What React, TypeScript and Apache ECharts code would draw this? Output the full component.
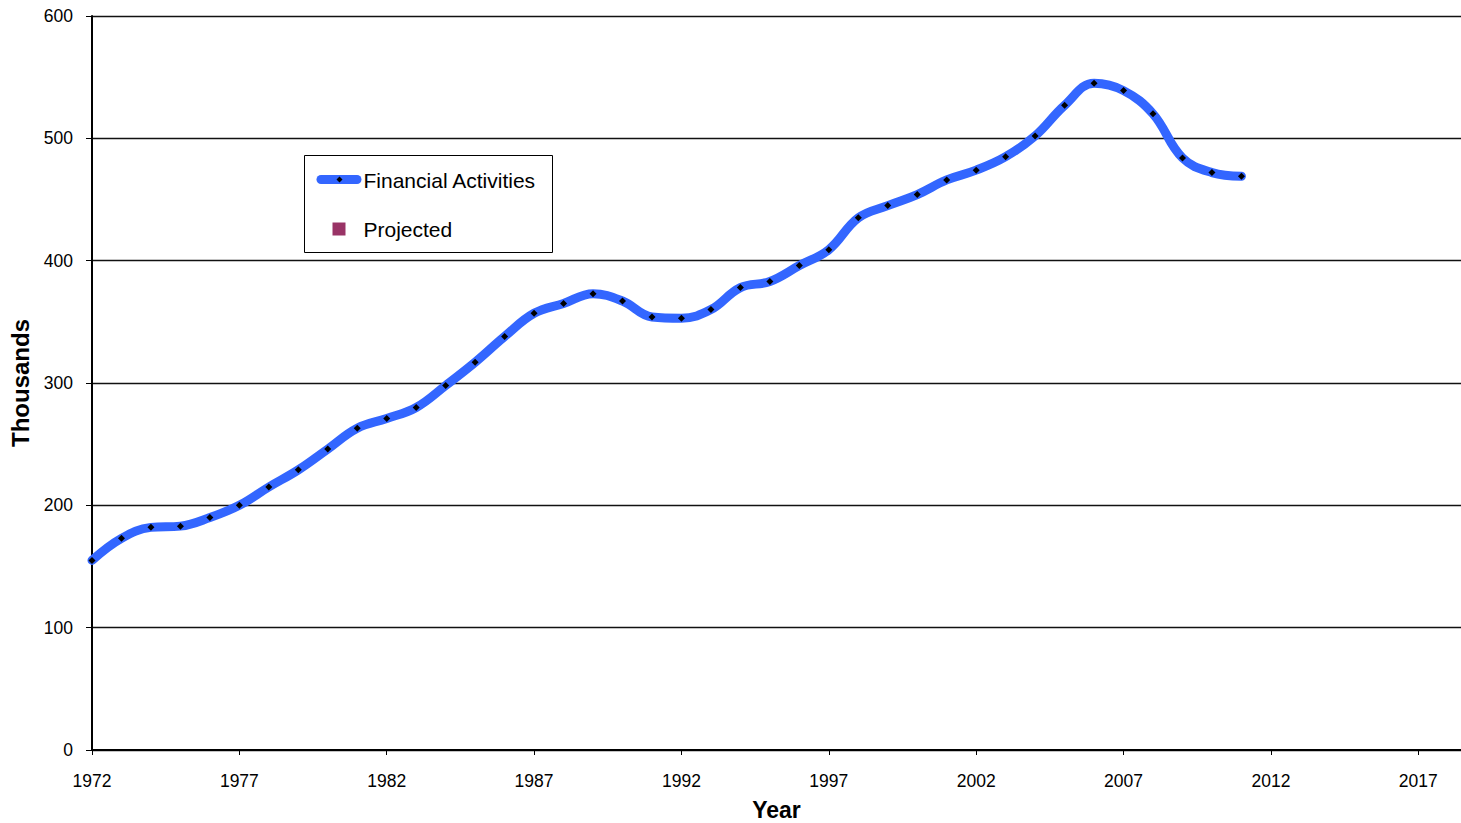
import React, { useEffect, useRef } from "react";
import * as echarts from "echarts";

const BASE_YEAR = 1972;
const years = [
  1972, 1973, 1974, 1975, 1976, 1977, 1978, 1979, 1980, 1981, 1982, 1983, 1984,
  1985, 1986, 1987, 1988, 1989, 1990, 1991, 1992, 1993, 1994, 1995, 1996, 1997,
  1998, 1999, 2000, 2001, 2002, 2003, 2004, 2005, 2006, 2007, 2008, 2009, 2010, 2011,
];
const financialActivities = [
  155, 173, 182, 183, 190, 200, 215, 229, 246, 263, 271, 280, 298,
  317, 338, 357, 365, 373, 367, 354, 353, 360, 378, 383, 396, 409,
  435, 445, 454, 466, 474, 485, 502, 527, 545, 539, 520, 484, 472, 469,
];
const projected: number[] = [];
const yTicks = [0, 100, 200, 300, 400, 500, 600];
const legendLabels = ["Financial Activities", "Projected"];

const FONT = "'Liberation Sans', Arial, Helvetica, sans-serif";

export default function App() {
  const ref = useRef<HTMLDivElement>(null);
  useEffect(() => {
    if (!ref.current) return;
    const chart = echarts.init(ref.current, null, { renderer: "svg" });
    const lineData = years.map((y, i) => [y - BASE_YEAR, financialActivities[i]]);
    const projData = projected.map((v, i) => [i, v]);
    chart.setOption({
      animation: false,
      backgroundColor: "#ffffff",
      textStyle: { fontFamily: FONT },
      grid: { left: 92, top: 16, right: 0, bottom: 73, containLabel: false, outerBoundsMode: "none" },
      xAxis: {
        type: "value",
        min: 0,
        max: 46.45,
        interval: 5,
        name: "Year",
        nameLocation: "middle",
        nameGap: 48,
        nameTextStyle: { fontFamily: FONT, fontSize: 23, fontWeight: "bold", color: "#000" },
        axisLine: { show: true, onZero: false, lineStyle: { color: "#000", width: 2 } },
        axisTick: { show: true, inside: false, length: 5, lineStyle: { color: "#000", width: 1 } },
        axisLabel: {
          fontFamily: FONT,
          fontSize: 17.5,
          color: "#000",
          margin: 22,
          showMaxLabel: false,
          formatter: (v: number) => String(Math.round(v) + BASE_YEAR),
        },
        splitLine: { show: false },
      },
      yAxis: {
        type: "value",
        min: yTicks[0],
        max: yTicks[yTicks.length - 1],
        interval: 100,
        name: "Thousands",
        nameLocation: "middle",
        nameGap: 52,
        nameTextStyle: { fontFamily: FONT, fontSize: 24, fontWeight: "bold", color: "#000" },
        axisLine: { show: true, lineStyle: { color: "#000", width: 2 } },
        axisTick: { show: true, inside: false, length: 6, lineStyle: { color: "#000", width: 1 } },
        axisLabel: { fontFamily: FONT, fontSize: 17.5, color: "#000", margin: 19 },
        splitLine: { show: true, lineStyle: { color: "#111", width: 1.4 } },
      },
      series: [
        {
          name: legendLabels[0],
          type: "line",
          data: lineData,
          smooth: 0.4,
          symbol: "diamond",
          symbolSize: 7,
          showSymbol: true,
          lineStyle: { color: "#3366FF", width: 9, cap: "round" },
          itemStyle: { color: "#000" },
          z: 3,
        },
        {
          name: legendLabels[1],
          type: "line",
          data: projData,
          symbol: "rect",
          lineStyle: { width: 0 },
          itemStyle: { color: "#993366" },
        },
      ],
      graphic: [
        {
          type: "group",
          left: 304,
          top: 155,
          children: [
            {
              type: "rect",
              shape: { x: 0, y: 0, width: 248, height: 97 },
              style: { fill: "#fff", stroke: "#000", lineWidth: 1 },
            },
            {
              type: "line",
              shape: { x1: 16.5, y1: 24, x2: 52.5, y2: 24 },
              style: { stroke: "#3366FF", lineWidth: 9, lineCap: "round" },
            },
            {
              type: "polygon",
              shape: { points: [[35, 21], [38, 24], [35, 27], [32, 24]] },
              style: { fill: "#000" },
            },
            {
              type: "text",
              x: 59,
              y: 25,
              style: {
                text: legendLabels[0],
                font: `21px ${FONT}`,
                fill: "#000",
                verticalAlign: "middle",
                align: "left",
              },
            },
            {
              type: "rect",
              shape: { x: 28, y: 67, width: 13, height: 13 },
              style: { fill: "#993366" },
            },
            {
              type: "text",
              x: 59,
              y: 74,
              style: {
                text: legendLabels[1],
                font: `21px ${FONT}`,
                fill: "#000",
                verticalAlign: "middle",
                align: "left",
              },
            },
          ],
        },
      ],
    });
    return () => chart.dispose();
  }, []);
  return (
    <div
      ref={ref}
      style={{ position: "absolute", left: 0, top: 0, width: 1461, height: 823, background: "#fff" }}
    />
  );
}
